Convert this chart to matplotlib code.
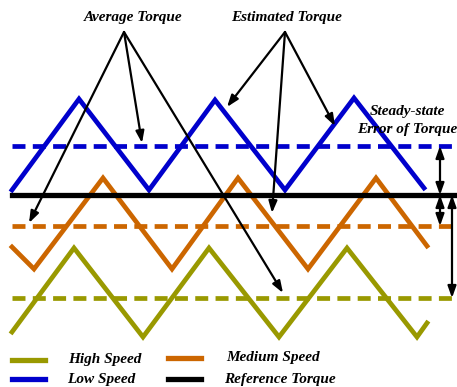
import matplotlib
matplotlib.use("Agg")
import matplotlib.pyplot as plt

# ---- data (pixel-space schematic values) ----
low_x = [12, 79, 149, 215, 285, 354, 424]
low_y = [190, 99, 190, 100, 190, 98, 188]
med_x = [12, 34, 103, 172, 238, 308, 376, 427]
med_y = [247, 269, 178, 269, 178, 269, 178, 246]
high_x = [12, 74, 143, 209, 279, 347, 417, 427]
high_y = [332, 248, 337, 248, 337, 248, 337, 323]
avg_low, avg_med, avg_high = 146, 226, 298
ref_torque = 195
x_span = [12, 457]

labels = ["High Speed", "Medium Speed", "Low Speed", "Reference Torque"]

C_LOW = "#0000CC"
C_MED = "#CC6600"
C_HIGH = "#999900"
C_REF = "#000000"

fig = plt.figure(figsize=(4.57, 3.87), dpi=100)
ax = fig.add_axes([0, 0, 1, 1])
ax.set_xlim(0, 457)
ax.set_ylim(387, 0)
ax.axis("off")

lw = 3.4
dash = (0, (2.75, 1.55))
ax.plot(low_x, low_y, color=C_LOW, lw=lw, solid_joinstyle="miter")
ax.plot(med_x, med_y, color=C_MED, lw=lw, solid_joinstyle="miter")
ax.plot(high_x, high_y, color=C_HIGH, lw=lw, solid_joinstyle="miter")
ax.plot(x_span, [avg_low] * 2, color=C_LOW, lw=lw, linestyle=dash)
ax.plot(x_span, [avg_med] * 2, color=C_MED, lw=lw, linestyle=dash)
ax.plot(x_span, [avg_high] * 2, color=C_HIGH, lw=lw, linestyle=dash)
ax.plot(x_span, [ref_torque] * 2, color=C_REF, lw=3.8)

font = dict(family="Liberation Serif", style="italic", weight="bold", size=11)
ap = dict(arrowstyle="-|>,head_length=0.7,head_width=0.25", color="black", lw=1.6,
          shrinkA=0, shrinkB=0)

ax.text(133, 17, "Average Torque", ha="center", va="center", **font)
for tgt in [(142, 143), (29, 223), (283, 293)]:
    ax.annotate("", xy=tgt, xytext=(124, 32), arrowprops=ap)

ax.text(287, 17, "Estimated Torque", ha="center", va="center", **font)
for tgt in [(227, 107), (335, 126), (272, 213)]:
    ax.annotate("", xy=tgt, xytext=(285, 32), arrowprops=ap)

ax.text(407, 112, "Steady-state", ha="center", va="center", **font)
ax.text(407, 130, "Error of Torque", ha="center", va="center", **font)

dap = dict(arrowstyle="<|-|>,head_length=0.7,head_width=0.25", color="black", lw=1.6,
           shrinkA=0, shrinkB=0)
ax.annotate("", xy=(440, avg_low), xytext=(440, ref_torque), arrowprops=dap)
ax.annotate("", xy=(440, ref_torque), xytext=(440, avg_med), arrowprops=dap)
ax.annotate("", xy=(452, ref_torque), xytext=(452, avg_high), arrowprops=dap)

# legend (manual)
leg = [(labels[0], C_HIGH, 12, 68, 360), (labels[1], C_MED, 168, 226, 358),
       (labels[2], C_LOW, 12, 67, 379), (labels[3], C_REF, 168, 224, 379)]
for lab, col, lx, tx, ly in leg:
    ax.plot([lx, lx + 33], [ly, ly], color=col, lw=3.8)
    ax.text(tx, ly, lab, ha="left", va="center", **font)

fig.savefig("out.png", dpi=100)
